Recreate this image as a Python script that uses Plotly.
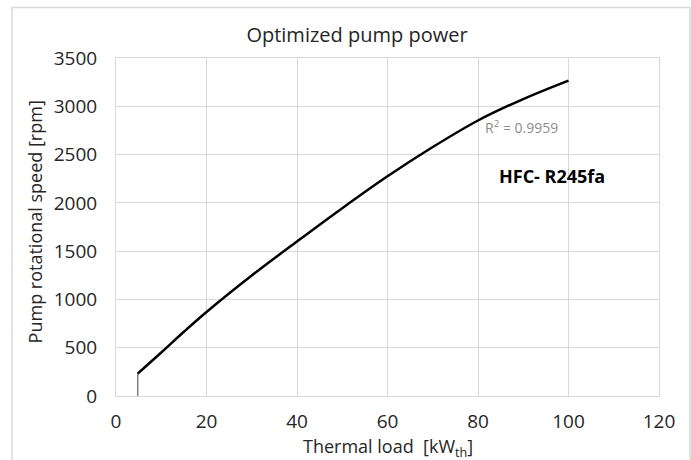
import plotly.graph_objects as go

# Data
thermal_load = [4.8, 10, 15, 20, 30, 40, 50, 60, 70, 80, 90, 100]
pump_speed = [232, 450, 665, 870, 1248, 1600, 1945, 2275, 2578, 2853, 3075, 3266]
start_load = [4.8, 4.8]
start_speed = [0, 232]

x_ticks = [0, 20, 40, 60, 80, 100, 120]
y_ticks = [0, 500, 1000, 1500, 2000, 2500, 3000, 3500]

FONT = "Open Sans"
GRID = "#d9d9d9"
TXT = "#262626"

fig = go.Figure()
fig.add_trace(go.Scatter(x=start_load, y=start_speed, mode="lines",
                         line=dict(color="#7f7f7f", width=1.5),
                         showlegend=False, hoverinfo="skip"))
fig.add_trace(go.Scatter(x=thermal_load, y=pump_speed, mode="lines",
                         line=dict(color="black", width=2.5, shape="spline", smoothing=1.0),
                         showlegend=False))

fig.update_layout(
    width=691, height=460,
    margin=dict(l=116, r=32, t=58, b=64),
    paper_bgcolor="white", plot_bgcolor="white",
    font=dict(family=FONT, size=18, color=TXT),
    title=dict(text="Optimized pump power", x=357/691, xanchor="center",
               y=1-35/460, yanchor="middle", yref="container",
               font=dict(family=FONT, size=20, color=TXT)),
    xaxis=dict(range=[0, 120], tickvals=x_ticks, showgrid=True, gridcolor=GRID,
               gridwidth=1, showline=True, linecolor=GRID, mirror=True,
               zeroline=False, ticks="", ticklabelstandoff=8,
               tickfont=dict(family=FONT, size=19, color=TXT)),
    yaxis=dict(range=[0, 3500], tickvals=y_ticks, showgrid=True, gridcolor=GRID,
               gridwidth=1, showline=True, linecolor=GRID, mirror=True,
               zeroline=False, ticks="", ticklabelstandoff=14,
               tickfont=dict(family=FONT, size=19, color=TXT)),
    shapes=[dict(type="rect", xref="paper", yref="paper",
                 x0=(12-116)/543, x1=(690-116)/543,
                 y0=-0.3, y1=(395.7-7)/338.2,
                 line=dict(color=GRID, width=1.5), layer="below")],
    annotations=[
        dict(text="R<sup>2</sup> = 0.9959", x=81, y=2785, xref="x", yref="y",
             xanchor="left", yanchor="middle", showarrow=False,
             font=dict(family=FONT, size=14, color="#8c8c8c")),
        dict(text="<b>HFC- R245fa</b>", x=96.4, y=2274, xref="x", yref="y",
             xanchor="center", yanchor="middle", showarrow=False,
             font=dict(family=FONT, size=18, color="black")),
        dict(text="Thermal load  [kW<sub>th</sub>]", x=0.5, y=(395.7-447)/338.2,
             xref="paper", yref="paper", xanchor="center", yanchor="middle",
             showarrow=False, font=dict(family=FONT, size=18, color=TXT)),
        dict(text="Pump rotational speed [rpm]", x=(35-116)/543, y=(395.7-222)/338.2,
             xref="paper", yref="paper", xanchor="center", yanchor="middle",
             textangle=-90, showarrow=False,
             font=dict(family=FONT, size=18, color=TXT)),
    ],
)

fig.write_html("out.html")
